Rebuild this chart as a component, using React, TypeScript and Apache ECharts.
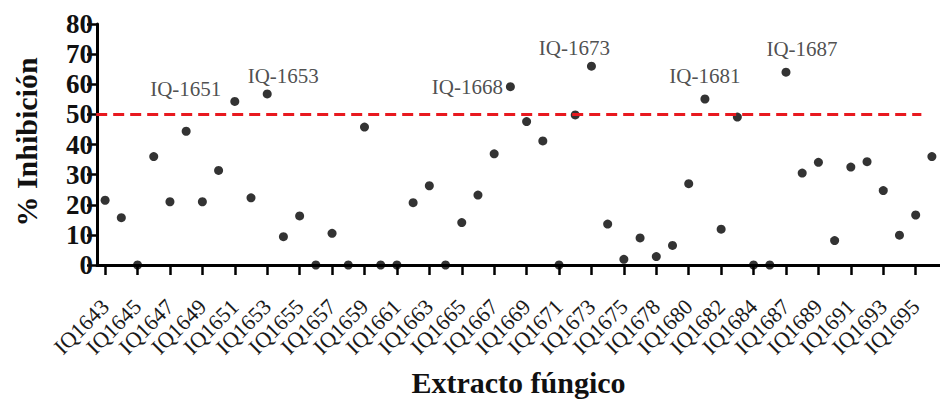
import React, { useEffect, useRef } from "react";
import * as echarts from "echarts";

const categories = [
  "IQ1643", "IQ1644", "IQ1645", "IQ1646", "IQ1647", "IQ1648", "IQ1649", "IQ1650",
  "IQ1651", "IQ1652", "IQ1653", "IQ1654", "IQ1655", "IQ1656", "IQ1657", "IQ1658",
  "IQ1659", "IQ1660", "IQ1661", "IQ1662", "IQ1663", "IQ1664", "IQ1665", "IQ1666",
  "IQ1667", "IQ1668", "IQ1669", "IQ1670", "IQ1671", "IQ1672", "IQ1673", "IQ1674",
  "IQ1675", "IQ1676", "IQ1678", "IQ1679", "IQ1680", "IQ1681", "IQ1682", "IQ1683",
  "IQ1684", "IQ1685", "IQ1687", "IQ1688", "IQ1689", "IQ1690", "IQ1691", "IQ1692",
  "IQ1693", "IQ1694", "IQ1695", "IQ1696",
];

const inhibition = [
  21.5, 15.7, 0, 36.0, 21.0, 44.4, 21.0, 31.4,
  54.3, 22.3, 56.8, 9.4, 16.3, 0, 10.5, 0,
  45.8, 0, 0, 20.7, 26.3, 0, 14.1, 23.2,
  36.9, 59.2, 47.6, 41.2, 0, 49.8, 66.0, 13.6,
  1.9, 9.0, 2.8, 6.5, 27.0, 55.1, 11.9, 49.1,
  0, 0, 64.0, 30.5, 34.1, 8.1, 32.5, 34.3,
  24.7, 9.9, 16.6, 36.0,
];

const yTicks = { min: 0, max: 80, interval: 10 };
const threshold = 50;

const annotated = ["IQ1651", "IQ1653", "IQ1668", "IQ1673", "IQ1681", "IQ1687"];

const annotationPlacement: Record<string, any> = {
  IQ1651: { position: "left", distance: 9, offset: [0, -12] },
  IQ1653: { position: "top", distance: 3, offset: [16, 0] },
  IQ1668: { position: "left", distance: 3, offset: [0, 0] },
  IQ1673: { position: "top", distance: 3, offset: [-17, 0] },
  IQ1681: { position: "top", distance: 8, offset: [0, 0] },
  IQ1687: { position: "top", distance: 8, offset: [16, 0] },
};

const SERIF = "Liberation Serif";

export default function App() {
  const ref = useRef<HTMLDivElement>(null);

  useEffect(() => {
    if (!ref.current) return;
    const chart = echarts.init(ref.current, null, { renderer: "svg" });

    const data = categories.map((c, i) => {
      const item: any = { value: [c, inhibition[i]] };
      if (annotated.includes(c)) {
        const p = annotationPlacement[c];
        item.label = {
          show: true,
          formatter: c.replace("IQ", "IQ-"),
          position: p.position,
          distance: p.distance,
          offset: p.offset,
          fontFamily: SERIF,
          fontSize: 21,
          color: "#222",
        };
      }
      return item;
    });

    chart.setOption({
      animation: false,
      backgroundColor: "#ffffff",
      grid: { left: 97, right: -4, top: 24, bottom: 134, containLabel: false },
      xAxis: {
        type: "category",
        data: categories,
        boundaryGap: true,
        name: "Extracto fúngico",
        nameLocation: "middle",
        nameGap: 102,
        nameTextStyle: { fontFamily: SERIF, fontWeight: "bold", fontSize: 30, color: "#111" },
        axisLine: { lineStyle: { color: "#000", width: 3 } },
        axisTick: { show: true, interval: 1, alignWithLabel: true, length: 10, lineStyle: { color: "#000", width: 2.5 } },
        axisLabel: {
          interval: 1,
          rotate: 45,
          margin: 38,
          fontFamily: SERIF,
          fontSize: 22,
          color: "#1a1a1a",
        },
        splitLine: { show: false },
      },
      yAxis: {
        type: "value",
        min: yTicks.min,
        max: yTicks.max,
        interval: yTicks.interval,
        name: "% Inhibición",
        nameLocation: "middle",
        nameGap: 56,
        nameRotate: 90,
        nameTextStyle: { fontFamily: SERIF, fontWeight: "bold", fontSize: 30, color: "#111", padding: [0, 0, 0, 5] },
        axisLine: { show: true, lineStyle: { color: "#000", width: 3 } },
        axisTick: { show: true, length: 10, lineStyle: { color: "#000", width: 2.5 } },
        axisLabel: {
          margin: 4,
          fontFamily: SERIF,
          fontWeight: "bold",
          fontSize: 27,
          color: "#111",
          showMinLabel: true,
          showMaxLabel: true,
          hideOverlap: false,
        },
        splitLine: { show: false },
      },
      series: [
        {
          type: "scatter",
          data,
          symbol: "circle",
          symbolSize: 9,
          itemStyle: { color: "#000" },
          clip: false,
        },
      ],
    });

    const y50 = chart.convertToPixel({ yAxisIndex: 0 }, threshold) as number;
    const xFirst = chart.convertToPixel({ xAxisIndex: 0 }, categories[0]) as number;
    const xLast = chart.convertToPixel({ xAxisIndex: 0 }, categories[categories.length - 2]) as number;
    const halfBand = (chart.convertToPixel({ xAxisIndex: 0 }, categories[1]) as number) - xFirst;

    chart.setOption({
      series: [
        {
          markLine: {
            silent: true,
            symbol: ["none", "none"],
            label: { show: false },
            lineStyle: { color: "#e8191f", width: 3, type: [11, 6] },
            data: [[{ x: xFirst - halfBand * 0.55, y: y50 }, { x: xLast + halfBand * 0.35, y: y50 }]],
          },
        },
      ],
    });

    return () => chart.dispose();
  }, []);

  return (
    <div
      ref={ref}
      style={{ position: "fixed", left: 0, top: 0, width: 940, height: 402, background: "#fff" }}
    />
  );
}
